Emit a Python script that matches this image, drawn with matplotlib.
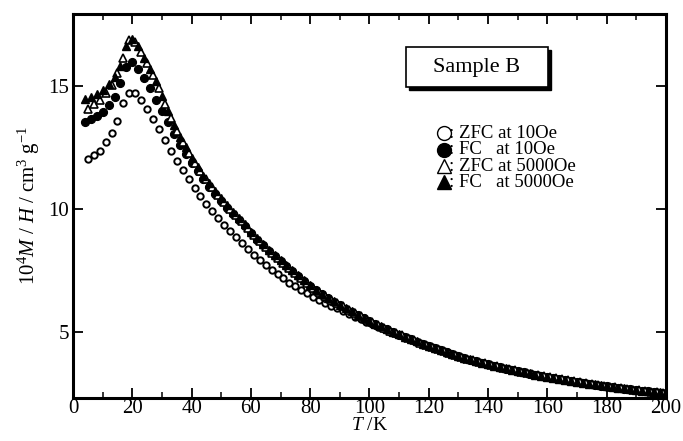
import numpy as np
import matplotlib
matplotlib.use("Agg")
import matplotlib.pyplot as plt
from matplotlib.patches import Rectangle
from matplotlib.ticker import MultipleLocator

plt.rcParams['font.family'] = ['Liberation Serif', 'DejaVu Serif']
plt.rcParams['mathtext.fontset'] = 'custom'
plt.rcParams['mathtext.rm'] = 'Liberation Serif'
plt.rcParams['mathtext.it'] = 'Liberation Serif:italic'

# temperatures (K): FC runs on even steps, ZFC runs on odd steps
t_fc = np.arange(4, 201, 2)
t_zfc = np.arange(5, 200, 2)

# 10^4 M/H (cm^3 g^-1)
zfc_10 = [12.03, 12.20, 12.36, 12.72, 13.08, 13.58, 14.32, 14.73, 14.70, 14.43,
          14.08, 13.66, 13.24, 12.80, 12.37, 11.94, 11.59, 11.20, 10.86, 10.52,
          10.22, 9.92, 9.62, 9.36, 9.12, 8.86, 8.60, 8.36, 8.13, 7.92,
          7.72, 7.53, 7.35, 7.18, 7.01, 6.86, 6.71, 6.57, 6.44, 6.31,
          6.19, 6.07, 5.96, 5.85, 5.74, 5.63, 5.52, 5.42, 5.32, 5.22,
          5.12, 5.02, 4.93, 4.83, 4.74, 4.65, 4.56, 4.47, 4.38, 4.30,
          4.22, 4.14, 4.06, 3.98, 3.91, 3.84, 3.78, 3.72, 3.66, 3.60,
          3.54, 3.48, 3.43, 3.38, 3.33, 3.28, 3.24, 3.19, 3.15, 3.11,
          3.07, 3.03, 2.99, 2.95, 2.91, 2.87, 2.84, 2.80, 2.77, 2.74,
          2.71, 2.68, 2.65, 2.62, 2.60, 2.57, 2.55, 2.52]
fc_10 = [13.55, 13.65, 13.78, 13.96, 14.23, 14.57, 15.11, 15.78, 15.96, 15.68,
         15.31, 14.91, 14.45, 14.00, 13.52, 13.05, 12.62, 12.24, 11.88, 11.53,
         11.21, 10.91, 10.61, 10.33, 10.06, 9.80, 9.55, 9.31, 9.01, 8.76,
         8.52, 8.29, 8.08, 7.87, 7.68, 7.49, 7.28, 7.08, 6.88, 6.70,
         6.53, 6.38, 6.23, 6.09, 5.95, 5.82, 5.69, 5.57, 5.45, 5.33,
         5.22, 5.11, 5.00, 4.90, 4.80, 4.70, 4.61, 4.52, 4.43, 4.34,
         4.26, 4.18, 4.10, 4.02, 3.95, 3.88, 3.81, 3.75, 3.69, 3.63,
         3.57, 3.51, 3.46, 3.41, 3.36, 3.31, 3.26, 3.22, 3.17, 3.13,
         3.09, 3.05, 3.01, 2.97, 2.93, 2.89, 2.86, 2.82, 2.79, 2.76,
         2.73, 2.70, 2.67, 2.64, 2.61, 2.59, 2.56, 2.54, 2.51]
zfc_5000 = [14.05, 14.25, 14.45, 14.72, 15.05, 15.52, 16.15, 16.85, 16.80, 16.40,
            15.93, 15.45, 14.90, 14.28, 13.70, 13.17, 12.71, 12.29, 11.89, 11.53,
            11.20, 10.88, 10.58, 10.30, 10.02, 9.76, 9.50, 9.23, 8.95, 8.69,
            8.45, 8.23, 8.01, 7.81, 7.61, 7.41, 7.20, 7.00, 6.81, 6.63,
            6.47, 6.32, 6.18, 6.04, 5.90, 5.77, 5.64, 5.52, 5.40, 5.28,
            5.17, 5.06, 4.96, 4.86, 4.76, 4.66, 4.57, 4.48, 4.39, 4.31,
            4.23, 4.15, 4.07, 3.99, 3.92, 3.85, 3.79, 3.73, 3.67, 3.61,
            3.55, 3.49, 3.44, 3.39, 3.34, 3.29, 3.25, 3.20, 3.16, 3.12,
            3.08, 3.04, 3.00, 2.96, 2.92, 2.88, 2.85, 2.81, 2.78, 2.75,
            2.72, 2.69, 2.66, 2.63, 2.61, 2.58, 2.56, 2.53]
fc_5000 = [14.46, 14.54, 14.67, 14.85, 15.07, 15.36, 15.80, 16.62, 16.90, 16.62,
           16.15, 15.70, 15.20, 14.58, 13.98, 13.42, 12.92, 12.50, 12.08, 11.70,
           11.36, 11.04, 10.73, 10.44, 10.16, 9.89, 9.63, 9.38, 9.08, 8.82,
           8.57, 8.34, 8.12, 7.91, 7.71, 7.52, 7.30, 7.10, 6.90, 6.72,
           6.55, 6.40, 6.25, 6.11, 5.97, 5.84, 5.71, 5.58, 5.46, 5.34,
           5.23, 5.12, 5.01, 4.91, 4.81, 4.71, 4.62, 4.53, 4.44, 4.35,
           4.27, 4.19, 4.11, 4.03, 3.96, 3.89, 3.82, 3.76, 3.70, 3.64,
           3.58, 3.52, 3.47, 3.42, 3.37, 3.32, 3.27, 3.23, 3.18, 3.14,
           3.10, 3.06, 3.02, 2.98, 2.94, 2.90, 2.87, 2.83, 2.80, 2.77,
           2.74, 2.71, 2.68, 2.65, 2.62, 2.60, 2.57, 2.55, 2.52]

legend_labels = [": ZFC at 10Oe", ": FC   at 10Oe", ": ZFC at 5000Oe", ": FC   at 5000Oe"]

fig = plt.figure(figsize=(6.83, 4.41), dpi=100)
ax = fig.add_axes([0.1069, 0.0975, 0.868, 0.8705])

ax.plot(t_zfc, zfc_10, 'o', ms=4.6, mfc='white', mec='black', mew=1.4, ls='none')
ax.plot(t_fc, fc_10, 'o', ms=5.6, mfc='black', mec='black', ls='none')
ax.plot(t_zfc, zfc_5000, '^', ms=5.6, mfc='white', mec='black', mew=1.2, ls='none')
ax.plot(t_fc, fc_5000, '^', ms=6.0, mfc='black', mec='black', ls='none')

ax.set_xlim(0, 200)
ax.set_ylim(2.32, 17.92)
ax.xaxis.set_major_locator(MultipleLocator(20))
ax.xaxis.set_minor_locator(MultipleLocator(10))
ax.yaxis.set_major_locator(MultipleLocator(5))
ax.tick_params(which='both', direction='in', top=True, right=True, labelsize=15, pad=3)
ax.tick_params(axis='x', which='major', pad=1)
ax.tick_params(which='major', length=7, width=1.3)
ax.tick_params(which='minor', length=4, width=1.1)
for sp in ax.spines.values():
    sp.set_linewidth(2.2)

ax.set_xlabel(r"$T$ /K", fontsize=14, labelpad=-1)
ax.set_ylabel(r"$10^4 M\ /\ H\ /\ \mathrm{cm}^3\ \mathrm{g}^{-1}$", fontsize=15, labelpad=4)

# "Sample B" box with drop shadow
ax.add_patch(Rectangle((0.567, 0.803), 0.239, 0.104, transform=ax.transAxes,
                       facecolor='black', edgecolor='black', clip_on=False, zorder=4))
ax.add_patch(Rectangle((0.5616, 0.81), 0.239, 0.104, transform=ax.transAxes,
                       facecolor='white', edgecolor='black', lw=1.2, clip_on=False, zorder=5))
ax.text(0.681, 0.862, "Sample B", transform=ax.transAxes, ha='center', va='center',
        fontsize=16, zorder=6)

# hand-made legend
styles = [dict(marker='o', mfc='white', mew=1.0, ms=10),
          dict(marker='o', mfc='black', mew=1.0, ms=10),
          dict(marker='^', mfc='white', mew=1.0, ms=10),
          dict(marker='^', mfc='black', mew=1.0, ms=10)]
ypos = [0.690, 0.647, 0.604, 0.562]
for st, lab, yy in zip(styles, legend_labels, ypos):
    ax.plot([0.626], [yy], ls='none', mec='black', transform=ax.transAxes, clip_on=False, **st)
    ax.text(0.634, yy, lab, transform=ax.transAxes, ha='left', va='center', fontsize=13.5)

fig.savefig("out.png", dpi=100)
